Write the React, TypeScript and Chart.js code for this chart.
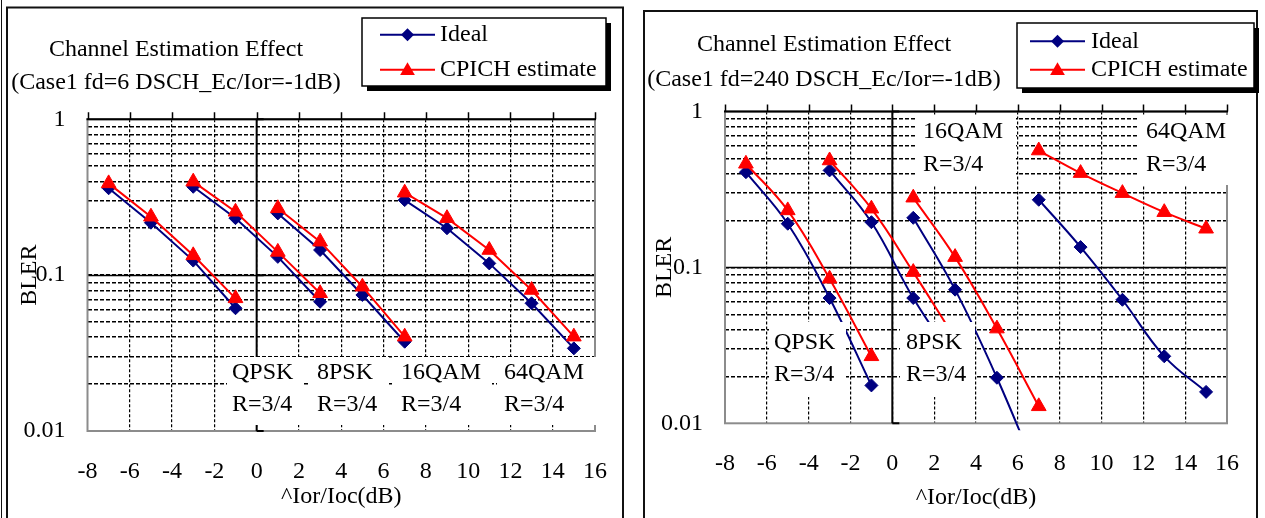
import React, { useEffect, useRef } from "react";
import { Chart, registerables } from "chart.js";

Chart.register(...registerables);

const FONT_FAMILY = "'Liberation Serif', 'Times New Roman', Times, serif";
const FONT_SIZE = 24;

// ---- axes -------------------------------------------------------------
const X_TICKS = [-8, -6, -4, -2, 0, 2, 4, 6, 8, 10, 12, 14, 16];
const Y_GRID = [
  0.01, 0.02, 0.03, 0.04, 0.05, 0.06, 0.07, 0.08, 0.09,
  0.1, 0.2, 0.3, 0.4, 0.5, 0.6, 0.7, 0.8, 0.9, 1,
];
const Y_LABEL_VALUES = [0.01, 0.1, 1];
const Y_LABEL_TEXT = ["0.01", "0.1", "1"];

// ---- texts ------------------------------------------------------------
const SERIES = ["Ideal", "CPICH estimate"];
const MODULATIONS = ["QPSK", "8PSK", "16QAM", "64QAM"];
const CODE_RATE = "R=3/4";
const CHART_TITLE = "Channel Estimation Effect";
const SUBTITLE_FD6 = "(Case1 fd=6 DSCH_Ec/Ior=-1dB)";
const SUBTITLE_FD240 = "(Case1 fd=240 DSCH_Ec/Ior=-1dB)";
const X_TITLE = "^Ior/Ioc(dB)";
const Y_TITLE = "BLER";

// ---- x positions (^Ior/Ioc dB) per modulation --------------------------
const X_QPSK = [-7, -5, -3, -1];
const X_8PSK = [-3, -1, 1, 3];
const X_16QAM = [1, 3, 5, 7];
const X_64QAM = [7, 9, 11, 13, 15];

// ---- fd = 6 ------------------------------------------------------------
const FD6_IDEAL_QPSK = [0.361, 0.217, 0.124, 0.0613];
const FD6_IDEAL_8PSK = [0.369, 0.232, 0.131, 0.0675];
const FD6_IDEAL_16QAM = [0.249, 0.145, 0.0746, 0.0374];
const FD6_IDEAL_64QAM = [0.303, 0.2, 0.119, 0.066, 0.0339];
const FD6_CPICH_QPSK = [0.388, 0.237, 0.134, 0.071];
const FD6_CPICH_8PSK = [0.398, 0.255, 0.141, 0.0765];
const FD6_CPICH_16QAM = [0.2685, 0.164, 0.0843, 0.0403];
const FD6_CPICH_64QAM = [0.338, 0.232, 0.145, 0.0803, 0.0403];

// ---- fd = 240 ----------------------------------------------------------
const FD240_IDEAL_QPSK = [0.408, 0.1906, 0.0636, 0.0175];
const FD240_IDEAL_8PSK = [0.419, 0.195, 0.0636, 0.025];
const FD240_IDEAL_16QAM = [0.208, 0.072, 0.0196, 0.0045];
const FD240_IDEAL_64QAM = [0.2716, 0.135, 0.062, 0.0269, 0.0159];
const FD240_CPICH_QPSK = [0.462, 0.232, 0.0846, 0.0269];
const FD240_CPICH_8PSK = [0.485, 0.238, 0.0933, 0.035];
const FD240_CPICH_16QAM = [0.28, 0.1164, 0.0405, 0.01285];
const FD240_CPICH_64QAM = [0.562, 0.4025, 0.2995, 0.226, 0.177];

const IDEAL_COLOR = "#000080";
const CPICH_COLOR = "#ff0000";
const CANVAS_H = 518;
const DIAMOND_R = 6.5;
const TRIANGLE_R = 8.5;

type LabelBox = { mod: number; x: number; y: number; w: number; h: number; tx: number; r1: number; r2: number };
type PanelCfg = {
  canvasLeft: number;
  canvasWidth: number;
  padTop: number;
  padRight: number;
  yWidth: number;
  xHeight: number;
  yTitlePad: number;
  xTitlePad: number;
  xTickPad: number;
  frame: { x: number; y: number; r: number; outer: boolean };
  titleX: number;
  title1Y: number;
  title2Y: number;
  subtitle: string;
  legend: { x: number; y: number; w: number; h: number; l0: number; l1: number; tx: number; r1: number; r2: number };
  boxes: LabelBox[];
  tension: number;
  bottomClip: number;
  ideal: number[][];
  cpich: number[][];
};

const PANELS: PanelCfg[] = [
  {
    canvasLeft: 0,
    canvasWidth: 634,
    padTop: 119.3,
    padRight: 39,
    yWidth: 87.5,
    xHeight: 87,
    yTitlePad: 15,
    xTitlePad: 6.5,
    xTickPad: 26,
    frame: { x: 7, y: 7.5, r: 623, outer: true },
    titleX: 176,
    title1Y: 50,
    title2Y: 83,
    subtitle: SUBTITLE_FD6,
    legend: { x: 362, y: 18, w: 244, h: 68, l0: 380, l1: 435, tx: 440, r1: 34.7, r2: 69.7 },
    boxes: [
      { mod: 0, x: 227, y: 357, w: 77, h: 68, tx: 232, r1: 372.7, r2: 405 },
      { mod: 1, x: 308, y: 357, w: 81, h: 68, tx: 317, r1: 372.7, r2: 405 },
      { mod: 2, x: 393, y: 357, w: 99, h: 68, tx: 401, r1: 372.7, r2: 405 },
      { mod: 3, x: 497, y: 357, w: 100, h: 68, tx: 504, r1: 372.7, r2: 405 },
    ],
    tension: 0,
    bottomClip: 0,
    ideal: [FD6_IDEAL_QPSK, FD6_IDEAL_8PSK, FD6_IDEAL_16QAM, FD6_IDEAL_64QAM],
    cpich: [FD6_CPICH_QPSK, FD6_CPICH_8PSK, FD6_CPICH_16QAM, FD6_CPICH_64QAM],
  },
  {
    canvasLeft: 634,
    canvasWidth: 631,
    padTop: 111.5,
    padRight: 20,
    yWidth: 91,
    xHeight: 94.7,
    yTitlePad: 16.5,
    xTitlePad: 6,
    xTickPad: 26,
    frame: { x: 10, y: 11, r: 623, outer: false },
    titleX: 190,
    title1Y: 45,
    title2Y: 80,
    subtitle: SUBTITLE_FD240,
    legend: { x: 383, y: 23, w: 237, h: 65, l0: 396, l1: 451, tx: 457, r1: 41.3, r2: 69.7 },
    boxes: [
      { mod: 2, x: 282, y: 115, w: 100, h: 70, tx: 289, r1: 131.7, r2: 165 },
      { mod: 3, x: 505, y: 115, w: 104, h: 70, tx: 512, r1: 131.7, r2: 165 },
      { mod: 0, x: 135, y: 322, w: 77, h: 75, tx: 140, r1: 342.7, r2: 375 },
      { mod: 1, x: 266, y: 322, w: 75, h: 75, tx: 272, r1: 342.7, r2: 375 },
    ],
    tension: 0.4,
    bottomClip: 7,
    ideal: [FD240_IDEAL_QPSK, FD240_IDEAL_8PSK, FD240_IDEAL_16QAM, FD240_IDEAL_64QAM],
    cpich: [FD240_CPICH_QPSK, FD240_CPICH_8PSK, FD240_CPICH_16QAM, FD240_CPICH_64QAM],
  },
];

const XS = [X_QPSK, X_8PSK, X_16QAM, X_64QAM];
const font = () => `${FONT_SIZE}px ${FONT_FAMILY}`;

function drawDiamond(ctx: CanvasRenderingContext2D, x: number, y: number, r: number) {
  ctx.beginPath();
  ctx.moveTo(x, y - r);
  ctx.lineTo(x + r, y);
  ctx.lineTo(x, y + r);
  ctx.lineTo(x - r, y);
  ctx.closePath();
  ctx.fill();
}
function drawTriangle(ctx: CanvasRenderingContext2D, x: number, y: number, r: number) {
  ctx.beginPath();
  for (let i = 0; i < 3; i++) {
    const a = -Math.PI / 2 + (i * 2 * Math.PI) / 3;
    const px = x + Math.cos(a) * r;
    const py = y + Math.sin(a) * r;
    if (i === 0) ctx.moveTo(px, py);
    else ctx.lineTo(px, py);
  }
  ctx.closePath();
  ctx.fill();
}

function ChartPanel({ cfg }: { cfg: PanelCfg }) {
  const ref = useRef<HTMLCanvasElement | null>(null);

  useEffect(() => {
    const canvas = ref.current;
    if (!canvas) return;

    const edgeX = (v: number) => v === X_TICKS[0] || v === X_TICKS[X_TICKS.length - 1];
    const edgeY = (v: number) => Math.abs(v - 0.01) < 1e-9 || Math.abs(v - 1) < 1e-9;

    const makeSet = (vals: number[], i: number, kind: number) => ({
      label: SERIES[kind],
      data: XS[i].map((x, j) => ({ x, y: vals[j] })),
      borderColor: kind === 0 ? IDEAL_COLOR : CPICH_COLOR,
      backgroundColor: kind === 0 ? IDEAL_COLOR : CPICH_COLOR,
      pointBackgroundColor: kind === 0 ? IDEAL_COLOR : CPICH_COLOR,
      pointBorderColor: kind === 0 ? IDEAL_COLOR : CPICH_COLOR,
      pointStyle: kind === 0 ? "rectRot" : "triangle",
      pointRadius: kind === 0 ? DIAMOND_R : TRIANGLE_R,
      pointBorderWidth: 1,
      borderWidth: 2,
      tension: cfg.tension,
      fill: false,
      clip: { left: 0, top: 0, right: 0, bottom: cfg.bottomClip },
    });

    const datasets = [
      ...cfg.cpich.map((v, i) => makeSet(v, i, 1)),
      ...cfg.ideal.map((v, i) => makeSet(v, i, 0)),
    ];

    const decor = {
      id: "decor",
      beforeDraw(chart: any) {
        const ctx: CanvasRenderingContext2D = chart.ctx;
        ctx.save();
        ctx.fillStyle = "#ffffff";
        ctx.fillRect(0, 0, chart.width, chart.height);
        const f = cfg.frame;
        ctx.strokeStyle = "#111";
        ctx.lineWidth = 2;
        ctx.strokeRect(f.x, f.y, f.r - f.x, 700);
        if (f.outer) {
          ctx.lineWidth = 1;
          ctx.beginPath();
          ctx.moveTo(1.5, 0);
          ctx.lineTo(1.5, chart.height);
          ctx.stroke();
        }
        ctx.fillStyle = "#000";
        ctx.font = font();
        ctx.textAlign = "center";
        ctx.textBaseline = "middle";
        ctx.fillText(CHART_TITLE, cfg.titleX, cfg.title1Y);
        ctx.fillText(cfg.subtitle, cfg.titleX, cfg.title2Y);
        ctx.restore();
      },
      beforeDatasetsDraw(chart: any) {
        const ctx: CanvasRenderingContext2D = chart.ctx;
        const a = chart.chartArea;
        const xs = chart.scales.x;
        const ys = chart.scales.y;
        ctx.save();
        // solid decade line
        const y01 = Math.round(ys.getPixelForValue(0.1)) + 0.5;
        ctx.strokeStyle = "#000";
        ctx.lineWidth = 1.6;
        ctx.beginPath();
        ctx.moveTo(a.left, y01);
        ctx.lineTo(a.right, y01);
        ctx.stroke();
        // plot border (grey)
        ctx.strokeStyle = "#8c8c8c";
        ctx.lineWidth = 2;
        ctx.strokeRect(a.left, a.top, a.right - a.left, a.bottom - a.top);
        // vertical axis at x = 0
        const x0 = xs.getPixelForValue(0);
        ctx.strokeStyle = "#000";
        ctx.lineWidth = 2;
        ctx.beginPath();
        ctx.moveTo(x0, a.top);
        ctx.lineTo(x0, a.bottom);
        for (const v of Y_LABEL_VALUES) {
          const py = ys.getPixelForValue(v);
          ctx.moveTo(x0, py);
          ctx.lineTo(x0 + 7, py);
        }
        ctx.stroke();
        // horizontal axis at top, ticks upward
        ctx.beginPath();
        ctx.moveTo(a.left - 1, a.top);
        ctx.lineTo(a.right + 1, a.top);
        ctx.stroke();
        ctx.lineWidth = 1.5;
        ctx.beginPath();
        for (const v of X_TICKS) {
          const px = Math.round(xs.getPixelForValue(v)) + 0.5;
          ctx.moveTo(px, a.top);
          ctx.lineTo(px, a.top - 7);
        }
        ctx.stroke();
        ctx.restore();
      },
      afterDatasetsDraw(chart: any) {
        const ctx: CanvasRenderingContext2D = chart.ctx;
        ctx.save();
        ctx.font = font();
        ctx.textAlign = "left";
        ctx.textBaseline = "middle";
        for (const b of cfg.boxes) {
          ctx.fillStyle = "#ffffff";
          ctx.fillRect(b.x, b.y, b.w, b.h);
          ctx.fillStyle = "#000";
          ctx.fillText(MODULATIONS[b.mod], b.tx, b.r1);
          ctx.fillText(CODE_RATE, b.tx, b.r2);
        }
        ctx.restore();
      },
      afterDraw(chart: any) {
        const ctx: CanvasRenderingContext2D = chart.ctx;
        const L = cfg.legend;
        ctx.save();
        ctx.fillStyle = "#000";
        ctx.fillRect(L.x + 5, L.y + 5, L.w, L.h);
        ctx.fillStyle = "#fff";
        ctx.fillRect(L.x, L.y, L.w, L.h);
        ctx.strokeStyle = "#000";
        ctx.lineWidth = 1.5;
        ctx.strokeRect(L.x, L.y, L.w, L.h);
        const rows = [L.r1, L.r2];
        const colors = [IDEAL_COLOR, CPICH_COLOR];
        const mid = (L.l0 + L.l1) / 2;
        for (let k = 0; k < 2; k++) {
          ctx.strokeStyle = colors[k];
          ctx.fillStyle = colors[k];
          ctx.lineWidth = 2;
          ctx.beginPath();
          ctx.moveTo(L.l0, rows[k]);
          ctx.lineTo(L.l1, rows[k]);
          ctx.stroke();
          if (k === 0) drawDiamond(ctx, mid, rows[k], DIAMOND_R);
          else drawTriangle(ctx, mid, rows[k] + 1, TRIANGLE_R);
          ctx.fillStyle = "#000";
          ctx.font = font();
          ctx.textAlign = "left";
          ctx.textBaseline = "middle";
          ctx.fillText(SERIES[k], L.tx, rows[k]);
        }
        ctx.restore();
      },
    };

    const tickFont = { family: FONT_FAMILY, size: FONT_SIZE };

    const chart = new Chart(canvas, {
      type: "line",
      data: { datasets: datasets as any },
      options: {
        animation: false,
        responsive: false,
        maintainAspectRatio: false,
        events: [],
        layout: { padding: { left: 0, top: cfg.padTop, right: cfg.padRight, bottom: 0 } },
        plugins: { legend: { display: false }, tooltip: { enabled: false }, title: { display: false } },
        scales: {
          x: {
            type: "linear",
            min: X_TICKS[0],
            max: X_TICKS[X_TICKS.length - 1],
            afterBuildTicks: (s: any) => {
              s.ticks = X_TICKS.map((v) => ({ value: v }));
            },
            afterFit: (s: any) => {
              s.height = cfg.xHeight;
            },
            ticks: {
              autoSkip: false,
              maxRotation: 0,
              padding: cfg.xTickPad,
              color: "#000",
              font: tickFont,
              callback: (v: any) => String(v),
            },
            grid: {
              drawTicks: false,
              lineWidth: 1.2,
              color: (c: any) => (c.tick && edgeX(c.tick.value) ? "rgba(0,0,0,0)" : "#000"),
            },
            border: { display: false, dash: [3, 2] },
            title: {
              display: true,
              text: X_TITLE,
              color: "#000",
              font: tickFont,
              padding: { top: 0, bottom: cfg.xTitlePad },
            },
          },
          y: {
            type: "logarithmic",
            min: 0.01,
            max: 1,
            afterBuildTicks: (s: any) => {
              s.ticks = Y_GRID.map((v) => ({ value: v }));
            },
            afterFit: (s: any) => {
              s.width = cfg.yWidth;
            },
            ticks: {
              autoSkip: false,
              padding: 22,
              color: "#000",
              font: tickFont,
              callback: (v: any) => {
                const i = Y_LABEL_VALUES.findIndex((t) => Math.abs(t - Number(v)) < 1e-9);
                return i >= 0 ? Y_LABEL_TEXT[i] : "";
              },
            },
            grid: {
              drawTicks: false,
              lineWidth: 1.5,
              color: (c: any) => (c.tick && edgeY(c.tick.value) ? "rgba(0,0,0,0)" : "#000"),
            },
            border: { display: false, dash: [4, 2] },
            title: {
              display: true,
              text: Y_TITLE,
              color: "#000",
              font: tickFont,
              padding: { top: cfg.yTitlePad, bottom: 0 },
            },
          },
        },
      } as any,
      plugins: [decor as any],
    });

    return () => chart.destroy();
  }, [cfg]);

  return (
    <canvas
      ref={ref}
      width={cfg.canvasWidth}
      height={CANVAS_H}
      style={{
        position: "absolute",
        left: cfg.canvasLeft,
        top: 0,
        width: cfg.canvasWidth,
        height: CANVAS_H,
        display: "block",
      }}
    />
  );
}

export default function App() {
  return (
    <div
      style={{
        position: "fixed",
        left: 0,
        top: 0,
        width: 1265,
        height: CANVAS_H,
        background: "#ffffff",
        overflow: "hidden",
      }}
    >
      {PANELS.map((p, i) => (
        <ChartPanel key={i} cfg={p} />
      ))}
    </div>
  );
}
